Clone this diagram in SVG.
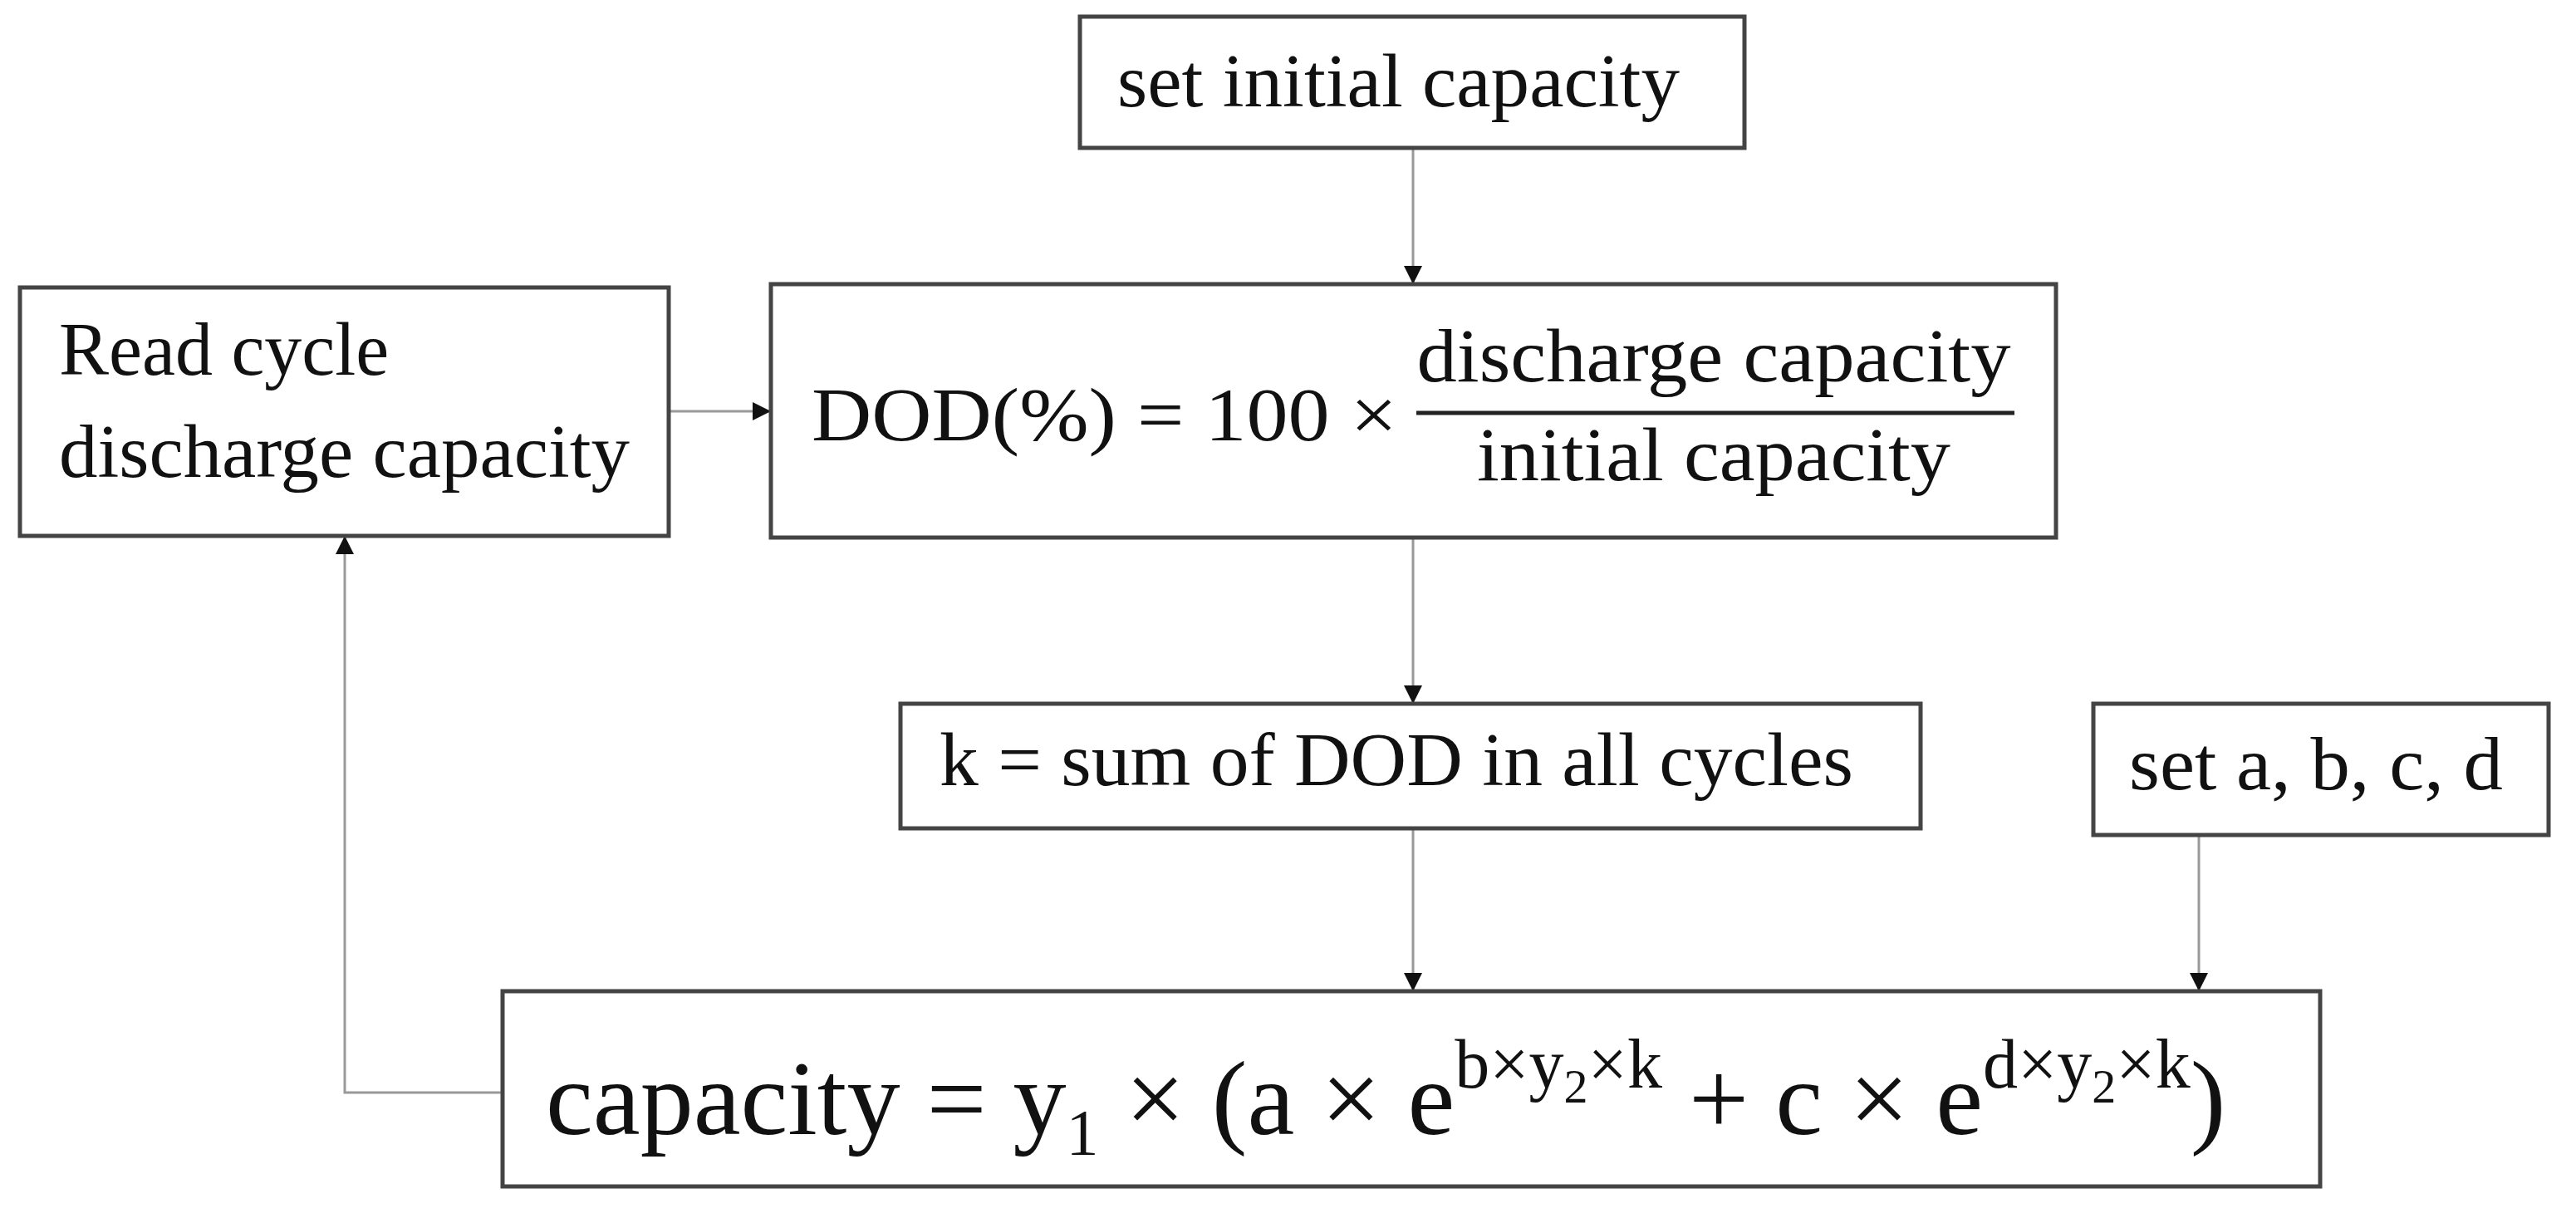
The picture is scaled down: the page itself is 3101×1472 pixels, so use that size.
<svg xmlns="http://www.w3.org/2000/svg" width="3101" height="1472" viewBox="0 0 3101 1472">
<style>
.b{fill:#fff;stroke:#444;stroke-width:5}
.t{font-family:"Liberation Serif",serif;font-size:90px;fill:#111}
.f{font-family:"Liberation Serif",serif;font-size:92px;fill:#111}
.c{stroke:#999;stroke-width:3;fill:none}
</style>
<defs>
<marker id="m" markerWidth="22" markerHeight="30" refX="22" refY="11" orient="auto" markerUnits="userSpaceOnUse"><path d="M0,0L22,11L0,22z" fill="#111"/></marker></defs>
<rect width="3101" height="1472" fill="#fff"/>
<g id="connectors">
<path class="c" d="M1701,178V342" marker-end="url(#m)"/>
<path class="c" d="M1701,647V847" marker-end="url(#m)"/>
<path class="c" d="M1701,997V1193" marker-end="url(#m)"/>
<path class="c" d="M2647,1005V1193" marker-end="url(#m)"/>
<path class="c" d="M805,495H928" marker-end="url(#m)"/>
<path class="c" d="M605,1315H415V645" marker-end="url(#m)"/>
</g>
<g id="set-initial"><rect class="b" x="1300" y="20" width="800" height="158"/><text class="t" x="1345" y="128" textLength="677" lengthAdjust="spacingAndGlyphs">set initial capacity</text></g>
<g id="read-cycle"><rect class="b" x="24" y="346" width="781" height="299"/><text class="t" x="71" y="451">Read cycle</text><text class="t" x="71" y="574" textLength="687" lengthAdjust="spacingAndGlyphs">discharge capacity</text></g>
<g id="dod"><rect class="b" x="928" y="342" width="1547" height="305"/>
<text class="f" x="977" y="530" textLength="705" lengthAdjust="spacingAndGlyphs">DOD(%) =  100 ×</text>
<text class="f" x="2063" y="459" text-anchor="middle" textLength="715" lengthAdjust="spacingAndGlyphs">discharge capacity</text>
<line x1="1705" y1="497" x2="2425" y2="497" stroke="#222" stroke-width="5"/>
<text class="f" x="2063" y="578" text-anchor="middle" textLength="570" lengthAdjust="spacingAndGlyphs">initial capacity</text></g>
<g id="k-sum"><rect class="b" x="1084" y="847" width="1228" height="150"/><text class="t" x="1131" y="945" textLength="1100" lengthAdjust="spacingAndGlyphs">k = sum of DOD in all cycles</text></g>
<g id="set-abcd"><rect class="b" x="2520" y="847" width="548" height="158"/><text class="t" x="2563" y="950" textLength="450" lengthAdjust="spacingAndGlyphs">set a, b, c, d</text></g>
<g id="capacity"><rect class="b" x="605" y="1193" width="2188" height="235"/>
<text class="f" style="font-size:128px" x="657" y="1365">capacity =  y<tspan font-size="78" dy="24">1</tspan><tspan dy="-24"> × (a × e</tspan><tspan font-size="84" dy="-56">b×y</tspan><tspan font-size="58" dy="18">2</tspan><tspan font-size="84" dy="-18">×k</tspan><tspan dy="56"> + c × e</tspan><tspan font-size="84" dy="-56">d×y</tspan><tspan font-size="58" dy="18">2</tspan><tspan font-size="84" dy="-18">×k</tspan><tspan dy="56">)</tspan></text></g>
</svg>
